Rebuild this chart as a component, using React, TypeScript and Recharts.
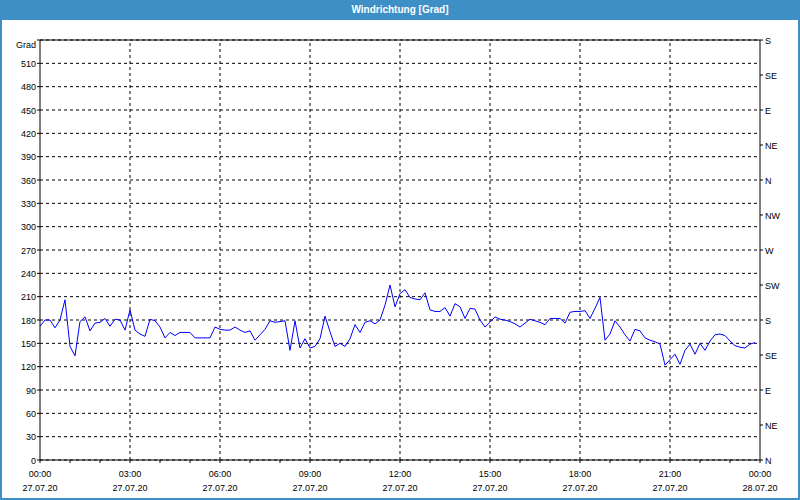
import React from "react";
import {
  LineChart,
  Line,
  XAxis,
  YAxis,
  CartesianGrid,
  ReferenceLine,
} from "recharts";

// wind direction in degrees, one reading every 10 minutes from 00:00 to 23:50
const windDirection = [
  172, 180, 180, 170, 180, 206, 146, 134, 178, 184, 166, 176,
  177, 182, 172, 181, 180, 167, 193, 167, 162, 159, 181, 179,
  171, 157, 164, 160, 164, 164, 164, 157, 157, 157, 157, 171,
  168, 167, 167, 171, 167, 164, 166, 154, 161, 168, 179, 177,
  178, 179, 141, 179, 144, 156, 144, 146, 156, 185, 165, 146,
  150, 146, 156, 174, 164, 177, 179, 175, 180, 199, 225, 197,
  214, 219, 209, 207, 206, 215, 193, 191, 191, 196, 185, 201,
  197, 182, 195, 194, 180, 171, 177, 184, 181, 180, 178, 175,
  171, 176, 181, 179, 177, 174, 182, 182, 182, 176, 190, 191,
  191, 192, 182, 195, 209, 154, 162, 179, 171, 161, 153, 168,
  166, 157, 154, 152, 149, 122, 129, 136, 123, 141, 149, 136,
  150, 141, 153, 161, 162, 160, 153, 147, 145, 144, 149, 151,
];

const hourTicks = [
  0, 60, 120, 180, 240, 300, 360, 420, 480, 540, 600, 660, 720, 780, 840,
  900, 960, 1020, 1080, 1140, 1200, 1260, 1320, 1380, 1440,
];
const gridTimes = [180, 360, 540, 720, 900, 1080, 1260];
const timeLabels = [
  "00:00", "03:00", "06:00", "09:00", "12:00", "15:00", "18:00", "21:00", "00:00",
];
const dateLabels = [
  "27.07.20", "27.07.20", "27.07.20", "27.07.20", "27.07.20",
  "27.07.20", "27.07.20", "27.07.20", "28.07.20",
];
const gradTicks = [
  0, 30, 60, 90, 120, 150, 180, 210, 240, 270, 300, 330, 360, 390, 420, 450,
  480, 510, 540,
];
const compassTicks = [0, 45, 90, 135, 180, 225, 270, 315, 360, 405, 450, 495, 540];
const compassLabels = ["N", "NE", "E", "SE", "S", "SW", "W", "NW", "N", "NE", "E", "SE", "S"];

const data = windDirection.map((v, i) => ({ t: i * 10, dir: v }));

const font = "'Liberation Sans', Arial, sans-serif";
const blue = "#3d8fc6";

function TimeTick(props: any) {
  const { x, y, payload } = props;
  if (payload.value % 180 !== 0) return <g />;
  const i = payload.value / 180;
  return (
    <g>
      <text x={x} y={y + 12} textAnchor="middle" fontSize={9} fontFamily={font} fill="#000">
        {timeLabels[i]}
      </text>
      <text x={x} y={y + 26} textAnchor="middle" fontSize={9} fontFamily={font} fill="#000">
        {dateLabels[i]}
      </text>
    </g>
  );
}

function GradTick(props: any) {
  const { x, y, payload } = props;
  const isTop = payload.value === 540;
  return (
    <text x={x} y={y} dy={isTop ? 8 : 3.5} textAnchor="end" fontSize={9} fontFamily={font} fill="#000">
      {isTop ? "Grad" : payload.value}
    </text>
  );
}

function CompassTick(props: any) {
  const { x, y, payload } = props;
  const i = compassTicks.indexOf(Number(payload.value));
  return (
    <text x={x} y={y} dy={3.5} textAnchor="start" fontSize={9} fontFamily={font} fill="#000">
      {compassLabels[i]}
    </text>
  );
}

export default function App() {
  return (
    <div
      style={{
        position: "absolute",
        left: 0,
        top: 0,
        width: 800,
        height: 500,
        background: "#fff",
        overflow: "hidden",
      }}
    >
      <div
        style={{
          position: "absolute",
          left: 0,
          top: 0,
          width: 800,
          height: 20,
          background: blue,
          color: "#fff",
          fontFamily: font,
          fontWeight: "bold",
          fontSize: 10,
          lineHeight: "20px",
          textAlign: "center",
        }}
      >
        Windrichtung [Grad]
      </div>
      <div
        style={{
          position: "absolute",
          left: 0,
          top: 0,
          width: 796,
          height: 498,
          border: `2px solid ${blue}`,
          borderTop: "none",
        }}
      />
      <div style={{ position: "absolute", left: 0, top: 0 }}>
        <LineChart
          width={800}
          height={500}
          data={data}
          margin={{ top: 40, right: 0, left: 0, bottom: 0 }}
        >
          <CartesianGrid
            yAxisId="left"
            vertical={false}
            stroke="#000"
            strokeDasharray="3 3"
          />
          <XAxis
            dataKey="t"
            type="number"
            domain={[0, 1440]}
            ticks={hourTicks}
            interval={0}
            height={40}
            tickSize={3}
            tickMargin={2}
            axisLine={{ stroke: "#000" }}
            tickLine={{ stroke: "#000" }}
            tick={<TimeTick />}
          />
          <YAxis
            yAxisId="left"
            type="number"
            domain={[0, 540]}
            ticks={gradTicks}
            interval={0}
            width={40}
            tickSize={3}
            tickMargin={1}
            axisLine={{ stroke: "#000" }}
            tickLine={{ stroke: "#000" }}
            tick={<GradTick />}
          />
          <YAxis
            yAxisId="right"
            type="number"
            orientation="right"
            domain={[0, 540]}
            ticks={compassTicks}
            interval={0}
            allowDataOverflow
            width={40}
            tickSize={3}
            tickMargin={2}
            axisLine={{ stroke: "#000" }}
            tickLine={{ stroke: "#000" }}
            tick={<CompassTick />}
          />
          {gridTimes.map((t) => (
            <ReferenceLine
              key={t}
              x={t}
              yAxisId="left"
              stroke="#000"
              strokeDasharray="3 3"
            />
          ))}
          <ReferenceLine y={540} yAxisId="left" stroke="#000" />
          {/* invisible copy so the compass axis gets a scale */}
          <Line
            yAxisId="right"
            type="linear"
            dataKey="dir"
            stroke="none"
            dot={false}
            activeDot={false}
            legendType="none"
            isAnimationActive={false}
          />
          <Line
            yAxisId="left"
            type="linear"
            dataKey="dir"
            stroke="#0000ff"
            strokeWidth={1}
            dot={false}
            isAnimationActive={false}
          />
        </LineChart>
      </div>
    </div>
  );
}
